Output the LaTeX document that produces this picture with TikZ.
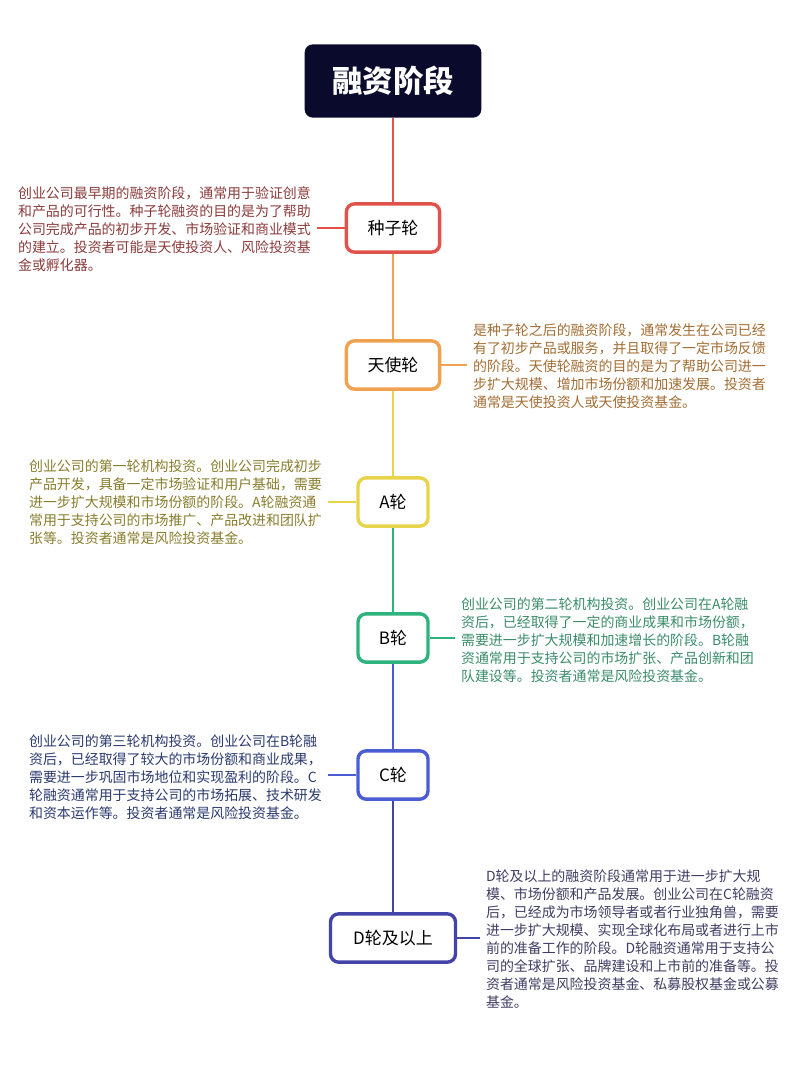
\documentclass[tikz,border=0pt]{standalone}
\usepackage{fontspec}
\setmainfont{Noto Sans CJK SC}
\usepackage{xcolor}
\usepackage{tikz}
\usetikzlibrary{positioning,calc}

\definecolor{navy}{HTML}{0A0A2C}
\definecolor{cseed}{HTML}{E0524B}
\definecolor{cangel}{HTML}{F0A250}
\definecolor{ca}{HTML}{E8D44A}
\definecolor{cb}{HTML}{2EB27E}
\definecolor{cc}{HTML}{4A5DD4}
\definecolor{cd}{HTML}{4343A8}
\definecolor{tseed}{HTML}{8A3B3B}
\definecolor{tangel}{HTML}{A26C32}
\definecolor{ta}{HTML}{877D2C}
\definecolor{tb}{HTML}{3A8C6B}
\definecolor{tc}{HTML}{2B3A6E}
\definecolor{td}{HTML}{3F3D63}

\begin{document}
\begin{tikzpicture}[
  x=0.03cm, y=-0.03cm,
  title/.style={rounded corners=7pt, fill=navy, text=white, minimum width=5.3cm, minimum height=2.2cm, font=\fontsize{26}{28}\selectfont\bfseries},
  stage/.style={rounded corners=7pt, draw=#1, line width=2.9pt, fill=white, minimum height=1.45cm, font=\fontsize{14.5}{16}\selectfont},
  desc/.style={text=#1, align=left, inner xsep=5pt, inner ysep=0pt, font=\fontsize{11.9}{15.3}\selectfont},
  link/.style={draw=#1, line width=2.5pt},
]
\useasboundingbox (0,0) rectangle (800,1067);

% title
\node[title] (root) at (393,81) {融资阶段};

% stages
\node[stage=cseed, minimum width=2.8cm] (seed) at (393,228) {种子轮};
\node[stage=cangel, minimum width=2.8cm] (angel) at (393,365) {天使轮};
\node[stage=ca, minimum width=2.1cm] (ra) at (393,502) {A轮};
\node[stage=cb, minimum width=2.1cm] (rb) at (393,638) {B轮};
\node[stage=cc, minimum width=2.1cm] (rc) at (393,775) {C轮};
\node[stage=cd, minimum width=3.75cm] (rd) at (393,938) {D轮及以上};

% spine
\draw[link=cseed] (root) -- (seed);
\draw[link=cangel] (seed) -- (angel);
\draw[link=ca] (angel) -- (ra);
\draw[link=cb] (ra) -- (rb);
\draw[link=cc] (rb) -- (rc);
\draw[link=cd] (rc) -- (rd);

% descriptions
\node[desc=tseed, anchor=west] (tseed) at (12,229) {创业公司最早期的融资阶段，通常用于验证创意\\和产品的可行性。种子轮融资的目的是为了帮助\\公司完成产品的初步开发、市场验证和商业模式\\的建立。投资者可能是天使投资人、风险投资基\\金或孵化器。};
\node[desc=tangel, anchor=west] (tangel) at (467,366) {是种子轮之后的融资阶段，通常发生在公司已经\\有了初步产品或服务，并且取得了一定市场反馈\\的阶段。天使轮融资的目的是为了帮助公司进一\\步扩大规模、增加市场份额和加速发展。投资者\\通常是天使投资人或天使投资基金。};
\node[desc=ta, anchor=west] (ta) at (23,502) {创业公司的第一轮机构投资。创业公司完成初步\\产品开发，具备一定市场验证和用户基础，需要\\进一步扩大规模和市场份额的阶段。A轮融资通\\常用于支持公司的市场推广、产品改进和团队扩\\张等。投资者通常是风险投资基金。};
\node[desc=tb, anchor=west] (tb) at (455,640) {创业公司的第二轮机构投资。创业公司在A轮融\\资后，已经取得了一定的商业成果和市场份额，\\需要进一步扩大规模和加速增长的阶段。B轮融\\资通常用于支持公司的市场扩张、产品创新和团\\队建设等。投资者通常是风险投资基金。};
\node[desc=tc, anchor=west] (tc) at (23,777) {创业公司的第三轮机构投资。创业公司在B轮融\\资后，已经取得了较大的市场份额和商业成果，\\需要进一步巩固市场地位和实现盈利的阶段。C\\轮融资通常用于支持公司的市场拓展、技术研发\\和资本运作等。投资者通常是风险投资基金。};
\node[desc=td, anchor=west] (td) at (480,939) {D轮及以上的融资阶段通常用于进一步扩大规\\模、市场份额和产品发展。创业公司在C轮融资\\后，已经成为市场领导者或者行业独角兽，需要\\进一步扩大规模、实现全球化布局或者进行上市\\前的准备工作的阶段。D轮融资通常用于支持公\\司的全球扩张、品牌建设和上市前的准备等。投\\资者通常是风险投资基金、私募股权基金或公募\\基金。};

% side links
\draw[link=cseed] (seed.west) -- (seed.west -| tseed.east);
\draw[link=cangel] (angel.east) -- (angel.east -| tangel.west);
\draw[link=ca] (ra.west) -- (ra.west -| ta.east);
\draw[link=cb] (rb.east) -- (rb.east -| tb.west);
\draw[link=cc] (rc.west) -- (rc.west -| tc.east);
\draw[link=cd] (rd.east) -- (rd.east -| td.west);

\end{tikzpicture}
\end{document}
